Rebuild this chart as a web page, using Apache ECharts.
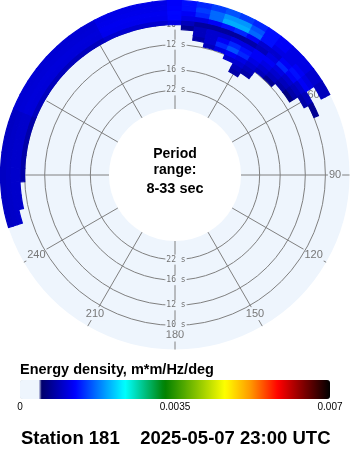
<!DOCTYPE html>
<html>
<head>
<meta charset="utf-8">
<script src="https://cdn.jsdelivr.net/npm/echarts@6/dist/echarts.min.js"></script>
<style>html,body{margin:0;padding:0;background:#fff}#c{width:350px;height:450px}</style>
</head>
<body>
<div id="c"></div>
<script>
// ---------------- DATA ----------------
// direction bin centers (deg, compass, 5-deg bins)
const directions = [250,255,260,265,270,275,280,285,290,295,300,305,310,315,320,325,330,335,340,345,350,355,0,5,10,15,20,25,30,35,40,45,50,55,60,65];
// frequency bin centers (Hz, 0.004-Hz bins)
const frequencies = [0.074,0.078,0.082,0.086,0.090,0.094,0.098,0.102,0.106,0.110,0.114,0.118];
// energy density (m*m/Hz/deg) per frequency bin, one value per direction bin
const energy_f074 = [0,0,0,0,0,0,0,0,0,0,0,0,0,0,0,0,0,0,0,0,0,0,0,0,0,0,0,0,0.0008,0,0,0,0,0,0,0];
const energy_f078 = [0,0,0,0,0,0,0,0,0,0,0,0,0,0,0,0,0,0,0,0,0,0,0,0,0,0,0,0,0.0009,0.0008,0,0,0,0,0,0];
const energy_f082 = [0,0,0,0,0,0,0,0,0,0,0,0,0,0,0,0,0,0,0,0,0,0,0,0.0,0,0,0,0.0010,0.0010,0.0009,0,0,0,0,0,0];
const energy_f086 = [0,0,0,0,0,0,0,0,0,0,0,0,0,0,0,0,0,0,0,0,0,0,0,0,0,0.0009,0.0011,0.0012,0.0011,0.0010,0.0009,0.0007,0,0,0,0];
const energy_f090 = [0,0,0,0,0,0,0,0,0,0,0,0,0,0,0,0,0,0,0,0,0,0,0,0,0.0008,0.0010,0.0014,0.0016,0.0014,0.0011,0.0010,0.0009,0.0008,0.0006,0,0];
const energy_f094 = [0,0,0,0,0,0,0,0,0,0,0,0,0,0,0,0,0,0,0,0,0,0,0,0,0.0009,0.0010,0.0012,0.0014,0.0013,0.0012,0.0011,0.0010,0.0009,0.0008,0,0];
const energy_f098 = [0,0,0,0,0,0,0,0,0,0,0,0,0,0,0,0,0,0,0,0,0,0,0,0.0007,0.0009,0.0010,0.0010,0.0011,0.0011,0.0012,0.0012,0.0011,0.0010,0.0009,0.0008,0];
const energy_f102 = [0,0,0,0,0.0008,0.0008,0.0008,0.0008,0.0008,0.0009,0.0009,0.0009,0.0009,0.0009,0.0009,0.0009,0.0009,0.0010,0.0010,0.0010,0.0010,0.0010,0.0011,0.0009,0.00075,0.00075,0.00075,0.00075,0.0008,0.0009,0.0011,0.0014,0.0012,0.0010,0.0009,0.0007];
const energy_f106 = [0,0,0.00098,0.00098,0.00098,0.00098,0.00098,0.00098,0.00098,0.00105,0.00105,0.00105,0.00105,0.00105,0.00105,0.00105,0.00105,0.00115,0.00115,0.00115,0.00115,0.00115,0.00125,0.0011,0.0011,0.0012,0.0013,0.0014,0.0012,0.0010,0.0010,0.0012,0.0013,0.0012,0,0];
const energy_f110 = [0,0.00098,0.00098,0.00098,0.00098,0.00098,0.00098,0.00098,0.00098,0.00106,0.00106,0.00106,0.00106,0.00106,0.00106,0.00106,0.00106,0.00116,0.00116,0.00116,0.00116,0.00116,0.00126,0.0012,0.0014,0.0017,0.0020,0.0020,0.0017,0.0013,0.0011,0.0011,0.0012,0.0011,0,0];
const energy_f114 = [0,0.00096,0.00096,0.00096,0.00096,0.00096,0.00096,0.00096,0.00096,0.00104,0.00104,0.00104,0.00104,0.00104,0.00104,0.00104,0.00104,0.00114,0.00114,0.00114,0.00114,0.00114,0.00124,0.0013,0.0015,0.0017,0.0019,0.0019,0.0016,0.0013,0.0012,0.0011,0.0011,0.0010,0.0009,0];
const energy_f118 = [0,0.00094,0.00094,0.00094,0.00094,0.00094,0.00094,0.00094,0.00094,0.00102,0.00102,0.00102,0.00102,0.00102,0.00102,0.00102,0.00102,0.00112,0.00112,0.00112,0.00112,0.00112,0.00122,0.0013,0.0014,0.0015,0.0016,0.0015,0.0014,0.0013,0.0012,0.0011,0.0011,0.0010,0.0009,0];

const ringPeriods = [10, 12, 16, 22];            // seconds
const angleTicks = [0,30,60,90,120,150,180,210,240,270,300,330];
const colorbarTicks = [0, 0.0035, 0.007];
const energyMin = 0, energyMax = 0.007;
const centerLines = ['Period', 'range:'];
const periodRangeText = '8-33 sec';
const colorbarTitle = 'Energy density, m*m/Hz/deg';
const footerText = 'Station 181    2025-05-07 23:00 UTC';

// ---------------- STYLE / LAYOUT ----------------
const FREQ_STEP = 0.004, DIR_STEP = 5;
const FREQ_MIN = 0.03, FREQ_MAX = 0.12;
const ANGLE_LABEL_FREQ = 0.108;
const DISK = '#eef5fd';
const GRID = '#808080';

const energyRows = [energy_f074,energy_f078,energy_f082,energy_f086,energy_f090,energy_f094,energy_f098,energy_f102,energy_f106,energy_f110,energy_f114,energy_f118];
const cells = [];
frequencies.forEach((f, i) => energyRows[i].forEach((v, j) => { if (v > 0) cells.push([f, directions[j], v]); }));

// colour scale anchors
const anchors = [
  [0, DISK], [0.000465, DISK], [0.000466, '#000066'], [0.00124, '#0000ff'], [0.0018, '#0080ff'],
  [0.00237, '#00ffff'], [0.00327, '#008000'], [0.00463, '#ffff00'], [0.0052, '#ff9900'],
  [0.00583, '#ff0000'], [0.0064, '#800000'], [0.007, '#000000']
];
function hex(c){return [parseInt(c.slice(1,3),16),parseInt(c.slice(3,5),16),parseInt(c.slice(5,7),16)];}
function colorAt(v){
  for (let k = 0; k < anchors.length - 1; k++) {
    const a = anchors[k], b = anchors[k+1];
    if (v <= b[0]) {
      const t = Math.max(0, Math.min(1, (v - a[0]) / (b[0] - a[0])));
      const ca = hex(a[1]), cb = hex(b[1]);
      return 'rgb(' + ca.map((x, i) => Math.round(x + (cb[i] - x) * t)).join(',') + ')';
    }
  }
  return anchors[anchors.length-1][1];
}
const palette = [];
for (let i = 0; i <= 300; i++) palette.push(colorAt(energyMax * i / 300));

function dist(p, cs){ return Math.hypot(p[0]-cs.cx, p[1]-cs.cy); }
function ang(p, cs){ return Math.atan2(p[1]-cs.cy, p[0]-cs.cx); }

const chart = echarts.init(document.getElementById('c'), null, {renderer: 'canvas', width: 350, height: 450});
chart.setOption({
  animation: false,
  backgroundColor: '#ffffff',
  polar: { center: [175, 175], radius: [66, 174.5] },
  angleAxis: {
    type: 'value', min: 0, max: 360, interval: 30, startAngle: 90, clockwise: true,
    axisLine: {show: false}, axisTick: {show: false}, axisLabel: {show: false},
    splitLine: {show: false},
    splitArea: {show: true, areaStyle: {color: [DISK]}}
  },
  radiusAxis: {
    type: 'value', min: FREQ_MIN, max: FREQ_MAX,
    axisLine: {show: false}, axisTick: {show: false}, axisLabel: {show: false}, splitLine: {show: false}
  },
  grid: { left: 20, width: 310, top: 380, height: 19 },
  xAxis: {
    type: 'value', min: colorbarTicks[0], max: colorbarTicks[colorbarTicks.length-1], interval: 0.0035,
    axisLine: {show: false}, axisTick: {show: false}, splitLine: {show: false},
    axisLabel: {margin: 3, fontSize: 10, color: '#000', fontFamily: 'Liberation Sans',
      showMinLabel: true, showMaxLabel: true}
  },
  yAxis: { type: 'value', min: 0, max: 1, show: false },
  visualMap: {
    type: 'continuous', min: energyMin, max: energyMax, dimension: 2, seriesIndex: 2,
    orient: 'horizontal', left: 20, top: 380, itemWidth: 19, itemHeight: 310,
    calculable: false, padding: 0, text: null, showLabel: false, hoverLink: false,
    inRange: { color: palette }
  },
  graphic: [
    {type: 'text', x: 175, y: 154.4, style: {text: centerLines[0], font: 'bold 14px "Liberation Sans"', fill: '#000', align: 'center', verticalAlign: 'middle'}},
    {type: 'text', x: 175, y: 170.1, style: {text: centerLines[1], font: 'bold 14px "Liberation Sans"', fill: '#000', align: 'center', verticalAlign: 'middle'}},
    {type: 'text', x: 175, y: 189.3, style: {text: periodRangeText, font: 'bold 14.5px "Liberation Sans"', fill: '#000', align: 'center', verticalAlign: 'middle'}},
    {type: 'text', x: 20, y: 370.4, style: {text: colorbarTitle, font: 'bold 14.5px "Liberation Sans"', fill: '#000', align: 'left', verticalAlign: 'middle'}},
    {type: 'text', x: 21, y: 438.5, style: {text: footerText, font: 'bold 18.5px "Liberation Sans"', fill: '#000', align: 'left', verticalAlign: 'middle'}}
  ],
  series: [
    {
      // direction spokes with their labels
      type: 'custom', coordinateSystem: 'polar', silent: true, z: 2,
      data: angleTicks.map(a => [ANGLE_LABEL_FREQ, a]),
      renderItem: function (params, api) {
        const a = api.value(1);
        const pIn = api.coord([FREQ_MIN, a]);
        const pOut = api.coord([FREQ_MAX, a]);
        const p = api.coord([api.value(0), a]);
        return {type: 'group', children: [
          {type: 'line', shape: {x1: pIn[0], y1: pIn[1], x2: pOut[0], y2: pOut[1]}, style: {stroke: GRID, lineWidth: 1}},
          {type: 'text', style: {text: String(a), x: p[0], y: p[1], align: 'center', verticalAlign: 'middle',
            font: '11px "Liberation Sans"', fill: '#777777', backgroundColor: DISK, padding: [1, 1]}}
        ]};
      }
    },
    {
      // period rings with their labels
      type: 'custom', coordinateSystem: 'polar', silent: true, z: 3,
      data: ringPeriods.map(T => [1 / T, 0, T]),
      renderItem: function (params, api) {
        const cs = params.coordSys;
        const T = api.value(2);
        const top = api.coord([1 / T, 0]);
        const bot = api.coord([1 / T, 180]);
        const r = dist(top, cs);
        const lbl = (p) => ({type: 'text', style: {text: T + ' s', x: p[0] + 1, y: p[1], align: 'center', verticalAlign: 'middle',
          font: '8px "DejaVu Sans Mono"', fill: '#707070', backgroundColor: DISK, padding: [1, 1]}});
        return {type: 'group', children: [
          {type: 'circle', shape: {cx: cs.cx, cy: cs.cy, r: r}, style: {fill: 'none', stroke: GRID, lineWidth: 1}},
          lbl(top), lbl(bot)
        ]};
      }
    },
    {
      // energy density cells
      type: 'custom', coordinateSystem: 'polar', silent: true, z: 6,
      data: cells,
      renderItem: function (params, api) {
        const cs = params.coordSys;
        const f = api.value(0), d = api.value(1);
        const pIn = api.coord([f - FREQ_STEP / 2, d]);
        const pOut = api.coord([f + FREQ_STEP / 2, d]);
        const p0 = api.coord([f, (d - DIR_STEP / 2 + 360) % 360]);
        const p1 = api.coord([f, (d + DIR_STEP / 2) % 360]);
        let a0 = ang(p0, cs), a1 = ang(p1, cs);
        if (a1 < a0) a1 += 2 * Math.PI;
        const col = api.visual('color');
        return {type: 'sector', shape: {cx: cs.cx, cy: cs.cy, r0: dist(pIn, cs), r: dist(pOut, cs), startAngle: a0, endAngle: a1, clockwise: true},
          style: {fill: col, stroke: col, lineWidth: 1.2}};
      }
    }
  ]
});
</script>
</body>
</html>
